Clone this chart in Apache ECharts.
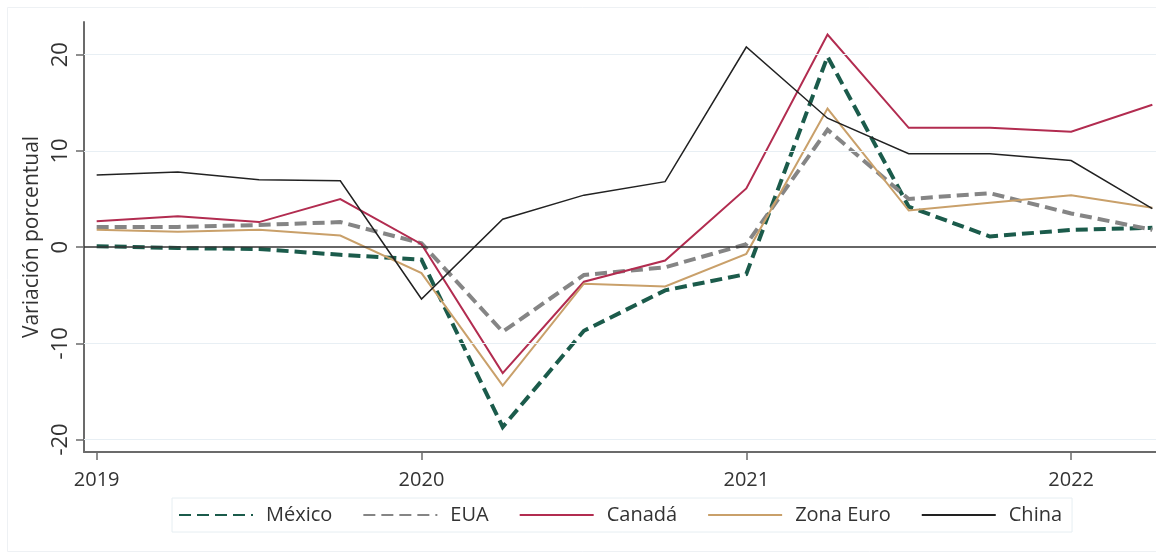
<!DOCTYPE html>
<html>
<head>
<meta charset="utf-8">
<script src="https://cdn.jsdelivr.net/npm/echarts@6/dist/echarts.min.js"></script>
<style>
html,body{margin:0;padding:0;background:#fff;}
#c{width:1156px;height:554px;}
</style>
</head>
<body>
<div id="c"></div>
<script>
const quarters = ['2019T1','2019T2','2019T3','2019T4','2020T1','2020T2','2020T3','2020T4','2021T1','2021T2','2021T3','2021T4','2022T1','2022T2'];
const mexico   = [0.1, -0.1, -0.2, -0.8, -1.3, -18.7, -8.7, -4.5, -2.8, 19.8, 4.2, 1.1, 1.8, 2.0];
const eua      = [2.1, 2.1, 2.3, 2.6, 0.4, -8.8, -2.9, -2.1, 0.3, 12.2, 5.0, 5.6, 3.5, 1.8];
const canada   = [2.7, 3.2, 2.6, 5.0, 0.3, -13.1, -3.6, -1.4, 6.1, 22.1, 12.4, 12.4, 12.0, 14.8];
const zonaEuro = [1.8, 1.6, 1.8, 1.2, -2.7, -14.4, -3.8, -4.1, -0.7, 14.4, 3.8, 4.6, 5.4, 4.1];
const china    = [7.5, 7.8, 7.0, 6.9, -5.4, 2.9, 5.4, 6.8, 20.8, 13.4, 9.7, 9.7, 9.0, 4.0];
const xTickIdx = [0, 4, 8, 12];
const xTickLabels = ['2019', '2020', '2021', '2022'];
const yTicks = [-20, -10, 0, 10, 20];
const yGridLines = [-20, -10, 10, 20];

const font = 'Open Sans';
const pts = arr => arr.map((v, i) => [i, v]);

const chart = echarts.init(document.getElementById('c'), null, {renderer: 'canvas'});

const mk = (name, data, color, width, dashed, z) => ({
  name, type: 'line', data: pts(data), showSymbol: false, symbol: 'none', z,
  lineStyle: {color, width, type: dashed ? [12, 6] : 'solid', cap: 'butt', join: 'miter'},
  itemStyle: {color: 'transparent', borderWidth: 0},
  animation: false
});

const series = [
  mk('México', mexico, '#1b5b4b', 4, true, 3),
  mk('EUA', eua, '#858585', 4, true, 3),
  mk('Canadá', canada, '#b22c50', 2, false, 4),
  mk('Zona Euro', zonaEuro, '#c9a06a', 2, false, 4),
  mk('China', china, '#222222', 1.5, false, 5)
];
series[0].markLine = {
  silent: true, symbol: ['none', 'none'], label: {show: false}, animation: false,
  data: yGridLines.map(v => ({yAxis: v, lineStyle: {color: '#e8eff4', width: 1, type: 'solid'}}))
    .concat([{yAxis: 0, lineStyle: {color: '#333333', width: 1.5, type: 'solid'}}])
};

chart.setOption({
  animation: false,
  backgroundColor: '#ffffff',
  graphic: [{
    type: 'rect', left: 5, top: 5, shape: {width: 1170, height: 544},
    style: {fill: 'none', stroke: '#eef1f4', lineWidth: 1}, silent: true, z: -1
  }],
  grid: {left: 84, right: 0, top: 22, bottom: 102, containLabel: false},
  xAxis: {
    type: 'value', min: -0.156, max: 13.045,
    axisLine: {show: true, onZero: false, lineStyle: {color: '#6b6b6b', width: 2}},
    axisTick: {show: true, length: 8, customValues: xTickIdx, lineStyle: {color: '#6b6b6b', width: 1.5}},
    axisLabel: {customValues: xTickIdx, formatter: v => xTickLabels[xTickIdx.indexOf(v)] || '',
      fontFamily: font, fontSize: 20, color: '#333', margin: 18},
    splitLine: {show: false}
  },
  yAxis: {
    type: 'value', min: -21.3, max: 23.4,
    name: 'Variación porcentual', nameLocation: 'middle', nameRotate: 90, nameGap: 34,
    nameTextStyle: {fontFamily: font, fontSize: 21, color: '#333'},
    axisLine: {show: true, onZero: false, lineStyle: {color: '#6b6b6b', width: 2}},
    axisTick: {show: true, length: 8, customValues: yTicks, lineStyle: {color: '#6b6b6b', width: 1.5}},
    axisLabel: {customValues: yTicks, rotate: 90, fontFamily: font, fontSize: 22, color: '#333', margin: 12},
    splitLine: {show: false}
  },
  legend: {
    left: 172, top: 498,
    data: ['México', 'EUA', 'Canadá', 'Zona Euro', 'China'],
    itemWidth: 74, itemHeight: 14, itemGap: 30,
    padding: [7, 10, 7, 6],
    borderColor: '#e6eef2', borderWidth: 1,
    itemStyle: {opacity: 0},
    textStyle: {fontFamily: font, fontSize: 20, color: '#333', padding: [0, 0, 0, 8]}
  },
  series
});
</script>
</body>
</html>
